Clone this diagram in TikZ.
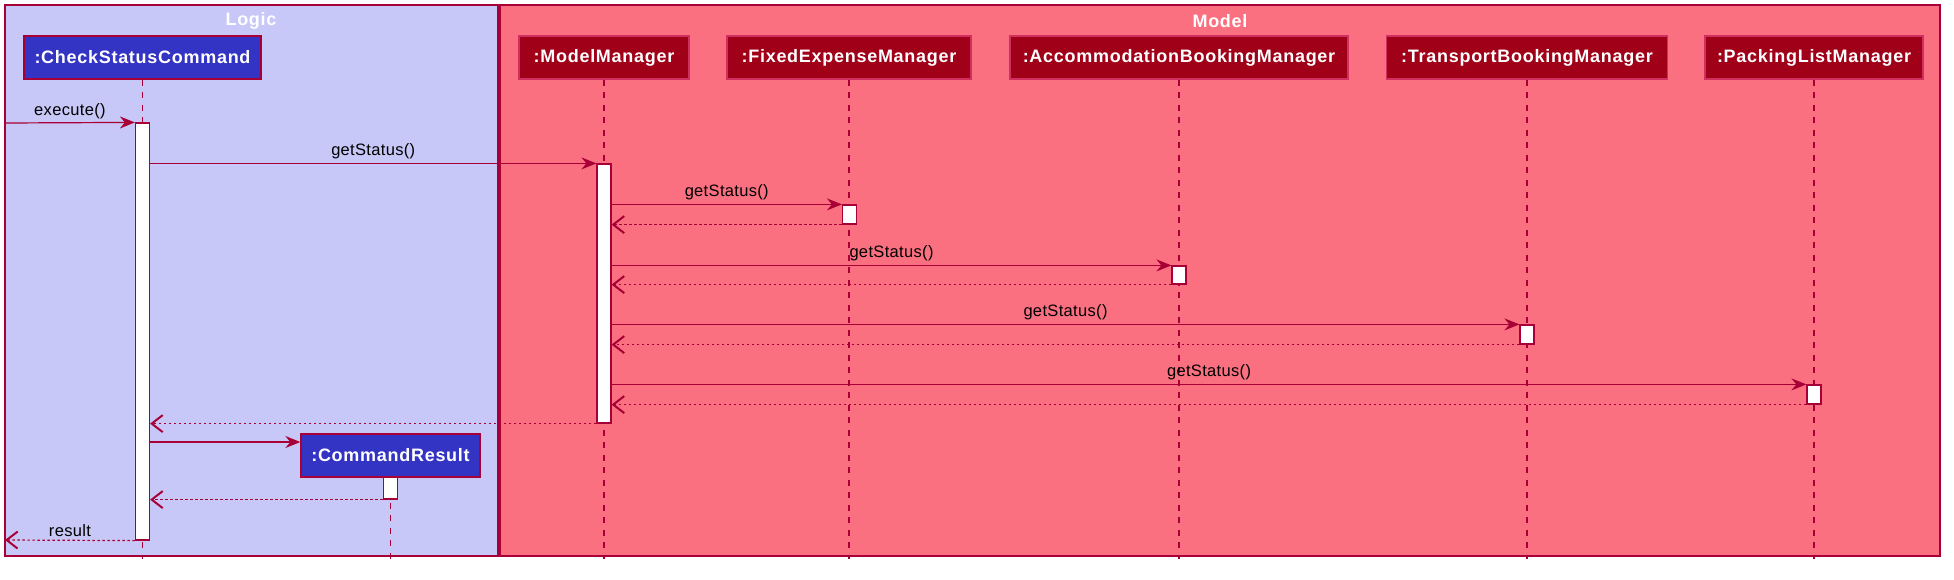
\documentclass[tikz,border=0pt]{standalone}
\usepackage{fontspec}
\setmainfont{Liberation Sans}
\newfontfamily\pfont[LetterSpace=4]{Liberation Sans}
\newfontfamily\mfont[LetterSpace=2]{Liberation Sans}
\usetikzlibrary{arrows.meta}
\definecolor{lineC}{HTML}{A80036}
\definecolor{logicBg}{HTML}{C8C8F8}
\definecolor{modelBg}{HTML}{FA7080}
\definecolor{logicPart}{HTML}{3333C4}
\definecolor{modelPart}{HTML}{A00018}
\definecolor{modelPartBorder}{HTML}{D0305F}
\tikzset{
  grp/.style={draw=lineC, line width=1.3pt, inner sep=0pt},
  grptitle/.style={text=white, font=\pfont\bfseries\fontsize{18}{20}\selectfont, inner sep=0pt},
  part/.style={line width=1.3pt, minimum height=43pt, inner sep=0pt, text=white,
    font=\pfont\bfseries\fontsize{18}{20}\selectfont},
  logicpart/.style={part, draw=lineC, fill=logicPart},
  modelpart/.style={part, draw=modelPartBorder, fill=modelPart},
  lifeline/.style={draw=lineC, line width=1.1pt, dash pattern=on 6.25pt off 6.25pt},
  act/.style={draw=lineC, fill=white, line width=1.2pt, minimum width=14pt, inner sep=0pt},
  msg/.style={draw=lineC, line width=1.2pt, -{Stealth[length=15pt,width=12pt,inset=5pt]}},
  ret/.style={draw=lineC, line width=1.2pt, dash pattern=on 2.5pt off 2.5pt,
    -{Straight Barb[length=11pt,width=17pt,line width=2pt]}},
  lbl/.style={anchor=south, inner sep=1.5pt, yshift=2pt, text=black,
    font=\mfont\fontsize{16.5}{19}\selectfont}
}
\begin{document}
\begin{tikzpicture}[x=1pt,y=-1pt]
\useasboundingbox (0,0) rectangle (1954,579);
% groups
\node[grp, fill=logicBg, minimum width=493pt, minimum height=551pt] (glogic) at (251.5,280.5) {};
\node[grp, fill=modelBg, minimum width=1440pt, minimum height=551pt] (gmodel) at (1220,280.5) {};
\node[grptitle] (tlogic) at (251,21) {Logic};
\node[grptitle] (tmodel) at (1220,21) {Model};
% participants
\node[logicpart, minimum width=237pt] (csc) at (142.5,57.5) {:CheckStatusCommand};
\node[modelpart, minimum width=170pt] (mm) at (604,57.5) {:ModelManager};
\node[modelpart, minimum width=244pt] (fem) at (849,57.5) {:FixedExpenseManager};
\node[modelpart, minimum width=338pt] (abm) at (1179,57.5) {:AccommodationBookingManager};
\node[modelpart, minimum width=281pt] (tbm) at (1527,57.5) {:TransportBookingManager};
\node[modelpart, minimum width=218pt] (plm) at (1814,57.5) {:PackingListManager};
% lifeline ends
\coordinate (cscEnd) at (142.5,559);
\coordinate (mmEnd) at (604,559);
\coordinate (femEnd) at (849,559);
\coordinate (abmEnd) at (1179,559);
\coordinate (tbmEnd) at (1527,559);
\coordinate (plmEnd) at (1814,559);
\coordinate (crEnd) at (390.5,563);
\draw[lifeline] (csc.south) -- (cscEnd);
\draw[lifeline] (mm.south) -- (mmEnd);
\draw[lifeline] (fem.south) -- (femEnd);
\draw[lifeline] (abm.south) -- (abmEnd);
\draw[lifeline] (tbm.south) -- (tbmEnd);
\draw[lifeline] (plm.south) -- (plmEnd);
% command result
\node[logicpart, minimum width=179pt] (cr) at (390.5,455.5) {:CommandResult};
\draw[lifeline] (cr.south) -- (crEnd);
% activations
\node[act, minimum height=417pt] (a0) at (142.5,331.5) {};
\node[act, minimum height=259pt] (a1) at (604,293.5) {};
\node[act, minimum height=19pt] (a2) at (849.5,214.5) {};
\node[act, minimum height=18pt] (a3) at (1179,275) {};
\node[act, minimum height=19pt] (a4) at (1527,334.5) {};
\node[act, minimum height=19pt] (a5) at (1814,394.5) {};
\node[act, minimum height=22pt] (a6) at (390.5,488) {};
% messages
\coordinate (exeStart) at (5,123);
\coordinate (resEnd) at (5,540);
\coordinate (create) at (150,442);
\draw[msg] (exeStart) -- node[lbl] {execute()} (a0.north west);
\draw[msg] (a1.north west -| a0.east) -- node[lbl] {getStatus()} (a1.north west);
\draw[msg] (a2.north west -| a1.east) -- node[lbl] {getStatus()} (a2.north west);
\draw[ret] (a2.south west) -- (a2.south west -| a1.east);
\draw[msg] (a3.north west -| a1.east) -- node[lbl] {getStatus()} (a3.north west);
\draw[ret] (a3.south west) -- (a3.south west -| a1.east);
\draw[msg] (a4.north west -| a1.east) -- node[lbl] {getStatus()} (a4.north west);
\draw[ret] (a4.south west) -- (a4.south west -| a1.east);
\draw[msg] (a5.north west -| a1.east) -- node[lbl] {getStatus()} (a5.north west);
\draw[ret] (a5.south west) -- (a5.south west -| a1.east);
\draw[ret] (a1.south west) -- (a1.south west -| a0.east);
\draw[msg] (create) -- (cr.west |- create);
\draw[ret] (a6.south west) -- (a6.south west -| a0.east);
\draw[ret] (a0.south west) -- node[lbl] {result} (resEnd);
\end{tikzpicture}
\end{document}
